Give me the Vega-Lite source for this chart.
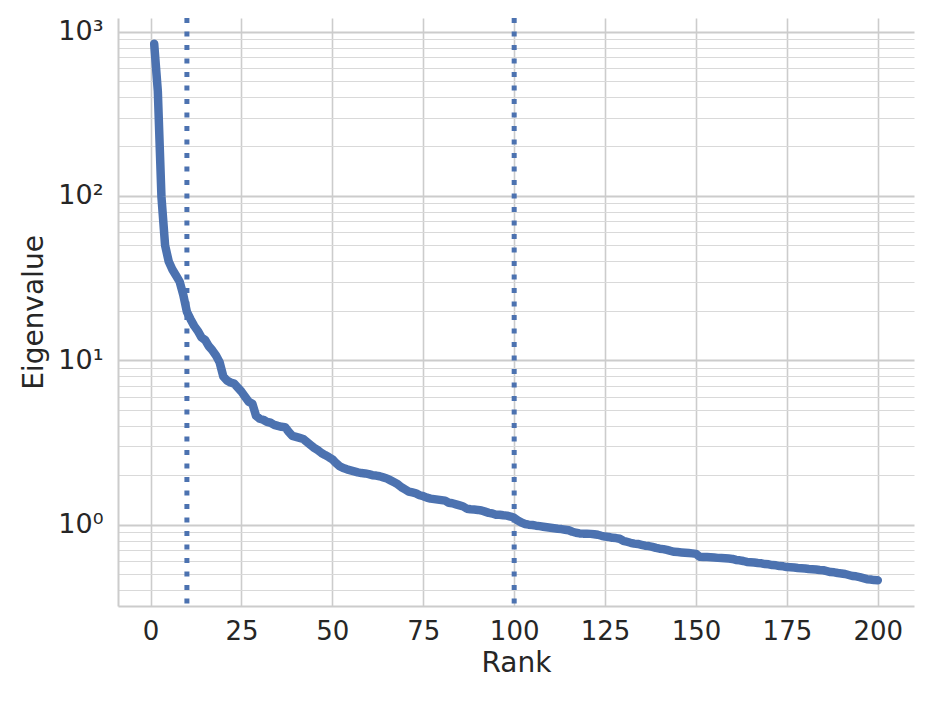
{
  "$schema": "https://vega.github.io/schema/vega-lite/v6.json",
  "autosize": {"type": "none"},
  "width": 796,
  "height": 588,
  "padding": {"left": 118, "top": 18, "right": 22, "bottom": 96},
  "background": "white",
  "config": {
    "view": {"stroke": null},
    "font": "DejaVu Sans",
    "axis": {
      "labelFont": "DejaVu Sans",
      "titleFont": "DejaVu Sans",
      "labelFontSize": 26,
      "titleFontSize": 28,
      "labelColor": "#262626",
      "titleColor": "#262626",
      "titleFontWeight": "normal",
      "domainColor": "#cccccc",
      "domainWidth": 2,
      "gridColor": "#cccccc",
      "ticks": false
    }
  },
  "datasets": {
    "eig": [
      {"r":1,"v":844},{"r":2,"v":435},{"r":3,"v":98.6},{"r":4,"v":50.0},{"r":5,"v":39.9},
      {"r":6,"v":35.7},{"r":7,"v":32.8},{"r":8,"v":30.1},{"r":9,"v":25.0},{"r":10,"v":19.7},
      {"r":11,"v":17.8},{"r":12,"v":16.2},{"r":13,"v":15.1},{"r":14,"v":13.8},{"r":15,"v":13.3},
      {"r":16,"v":12.2},{"r":17,"v":11.5},{"r":18,"v":10.7},{"r":19,"v":9.72},{"r":20,"v":7.98},
      {"r":21,"v":7.54},{"r":22,"v":7.33},{"r":23,"v":7.22},{"r":24,"v":6.83},{"r":25,"v":6.45},
      {"r":26,"v":6.01},{"r":27,"v":5.60},{"r":28,"v":5.45},{"r":29,"v":4.60},{"r":30,"v":4.41},
      {"r":31,"v":4.35},{"r":32,"v":4.22},{"r":33,"v":4.17},{"r":34,"v":4.05},{"r":35,"v":3.99},
      {"r":36,"v":3.94},{"r":37,"v":3.92},{"r":38,"v":3.67},{"r":39,"v":3.47},{"r":40,"v":3.42},
      {"r":41,"v":3.37},{"r":42,"v":3.32},{"r":43,"v":3.18},{"r":44,"v":3.05},{"r":45,"v":2.93},
      {"r":46,"v":2.84},{"r":47,"v":2.73},{"r":48,"v":2.65},{"r":49,"v":2.58},{"r":50,"v":2.50},
      {"r":51,"v":2.37},{"r":52,"v":2.27},{"r":53,"v":2.21},{"r":54,"v":2.17},{"r":55,"v":2.14},
      {"r":56,"v":2.11},{"r":57,"v":2.08},{"r":58,"v":2.06},{"r":59,"v":2.05},{"r":60,"v":2.03},
      {"r":61,"v":2.00},{"r":62,"v":1.99},{"r":63,"v":1.97},{"r":64,"v":1.94},{"r":65,"v":1.91},
      {"r":66,"v":1.86},{"r":67,"v":1.81},{"r":68,"v":1.76},{"r":69,"v":1.69},{"r":70,"v":1.64},
      {"r":71,"v":1.59},{"r":72,"v":1.57},{"r":73,"v":1.55},{"r":74,"v":1.51},{"r":75,"v":1.49},
      {"r":76,"v":1.46},{"r":77,"v":1.44},{"r":78,"v":1.43},{"r":79,"v":1.42},{"r":80,"v":1.41},
      {"r":81,"v":1.40},{"r":82,"v":1.36},{"r":83,"v":1.35},{"r":84,"v":1.33},{"r":85,"v":1.31},
      {"r":86,"v":1.29},{"r":87,"v":1.25},{"r":88,"v":1.24},{"r":89,"v":1.235},{"r":90,"v":1.23},
      {"r":91,"v":1.22},{"r":92,"v":1.20},{"r":93,"v":1.18},{"r":94,"v":1.17},{"r":95,"v":1.15},
      {"r":96,"v":1.148},{"r":97,"v":1.14},{"r":98,"v":1.135},{"r":99,"v":1.12},{"r":100,"v":1.10},
      {"r":101,"v":1.06},{"r":102,"v":1.03},{"r":103,"v":1.01},{"r":104,"v":1.00},{"r":105,"v":0.995},
      {"r":106,"v":0.986},{"r":107,"v":0.98},{"r":108,"v":0.972},{"r":109,"v":0.965},{"r":110,"v":0.958},
      {"r":111,"v":0.952},{"r":112,"v":0.945},{"r":113,"v":0.94},{"r":114,"v":0.932},{"r":115,"v":0.925},
      {"r":116,"v":0.906},{"r":117,"v":0.893},{"r":118,"v":0.885},{"r":119,"v":0.882},{"r":120,"v":0.881},
      {"r":121,"v":0.879},{"r":122,"v":0.875},{"r":123,"v":0.868},{"r":124,"v":0.856},{"r":125,"v":0.846},
      {"r":126,"v":0.842},{"r":127,"v":0.832},{"r":128,"v":0.829},{"r":129,"v":0.821},{"r":130,"v":0.798},
      {"r":131,"v":0.787},{"r":132,"v":0.776},{"r":133,"v":0.767},{"r":134,"v":0.763},{"r":135,"v":0.754},
      {"r":136,"v":0.745},{"r":137,"v":0.741},{"r":138,"v":0.733},{"r":139,"v":0.722},{"r":140,"v":0.714},
      {"r":141,"v":0.71},{"r":142,"v":0.702},{"r":143,"v":0.692},{"r":144,"v":0.684},{"r":145,"v":0.681},
      {"r":146,"v":0.678},{"r":147,"v":0.675},{"r":148,"v":0.672},{"r":149,"v":0.669},{"r":150,"v":0.664},
      {"r":151,"v":0.638},{"r":152,"v":0.636},{"r":153,"v":0.635},{"r":154,"v":0.633},{"r":155,"v":0.631},
      {"r":156,"v":0.628},{"r":157,"v":0.627},{"r":158,"v":0.625},{"r":159,"v":0.622},{"r":160,"v":0.619},
      {"r":161,"v":0.61},{"r":162,"v":0.607},{"r":163,"v":0.601},{"r":164,"v":0.593},{"r":165,"v":0.591},
      {"r":166,"v":0.589},{"r":167,"v":0.585},{"r":168,"v":0.582},{"r":169,"v":0.576},{"r":170,"v":0.574},
      {"r":171,"v":0.568},{"r":172,"v":0.566},{"r":173,"v":0.560},{"r":174,"v":0.558},{"r":175,"v":0.552},
      {"r":176,"v":0.551},{"r":177,"v":0.549},{"r":178,"v":0.545},{"r":179,"v":0.543},{"r":180,"v":0.541},
      {"r":181,"v":0.537},{"r":182,"v":0.536},{"r":183,"v":0.534},{"r":184,"v":0.530},{"r":185,"v":0.528},
      {"r":186,"v":0.522},{"r":187,"v":0.515},{"r":188,"v":0.513},{"r":189,"v":0.508},{"r":190,"v":0.505},
      {"r":191,"v":0.501},{"r":192,"v":0.494},{"r":193,"v":0.487},{"r":194,"v":0.485},{"r":195,"v":0.480},
      {"r":196,"v":0.473},{"r":197,"v":0.466},{"r":198,"v":0.464},{"r":199,"v":0.460},{"r":200,"v":0.459}
    ],
    "vlines": [{"r": 10}, {"r": 100}]
  },
  "layer": [
    {
      "data": {"name": "vlines"},
      "mark": {"type": "rule", "color": "#4c72b0", "strokeWidth": 5, "strokeDash": [5, 8.5], "strokeCap": "butt"},
      "encoding": {
        "x": {"field": "r", "type": "quantitative", "scale": {"domain": [-8.95, 209.95], "nice": false, "zero": false}}
      }
    },
    {
      "data": {"name": "eig"},
      "mark": {"type": "line", "color": "#4c72b0", "strokeWidth": 8.5, "strokeCap": "round", "strokeJoin": "round"},
      "encoding": {
        "x": {
          "field": "r", "type": "quantitative",
          "scale": {"domain": [-8.95, 209.95], "nice": false, "zero": false},
          "axis": {
            "title": "Rank",
            "values": [0, 25, 50, 75, 100, 125, 150, 175, 200],
            "grid": true,
            "gridWidth": 1.6,
            "labelPadding": 12,
            "titlePadding": 5
          }
        },
        "y": {
          "field": "v", "type": "quantitative",
          "scale": {"type": "log", "domain": [0.32, 1210], "nice": false},
          "axis": {
            "title": "Eigenvalue",
            "values": [0.4, 0.5, 0.6, 0.7, 0.8, 0.9, 1, 2, 3, 4, 5, 6, 7, 8, 9, 10, 20, 30, 40, 50, 60, 70, 80, 90, 100, 200, 300, 400, 500, 600, 700, 800, 900, 1000],
            "labelExpr": "datum.value == 1 ? '10⁰' : datum.value == 10 ? '10¹' : datum.value == 100 ? '10²' : datum.value == 1000 ? '10³' : ''",
            "labelOverlap": false,
            "labelFontSize": 27,
            "grid": true,
            "gridWidth": {"condition": {"test": "datum.value == 1 || datum.value == 10 || datum.value == 100 || datum.value == 1000", "value": 2}, "value": 1.2},
            "gridColor": {"condition": {"test": "datum.value == 1 || datum.value == 10 || datum.value == 100 || datum.value == 1000", "value": "#cccccc"}, "value": "#d9d9d9"},
            "labelPadding": 15,
            "titlePadding": 9
          }
        }
      }
    }
  ]
}
